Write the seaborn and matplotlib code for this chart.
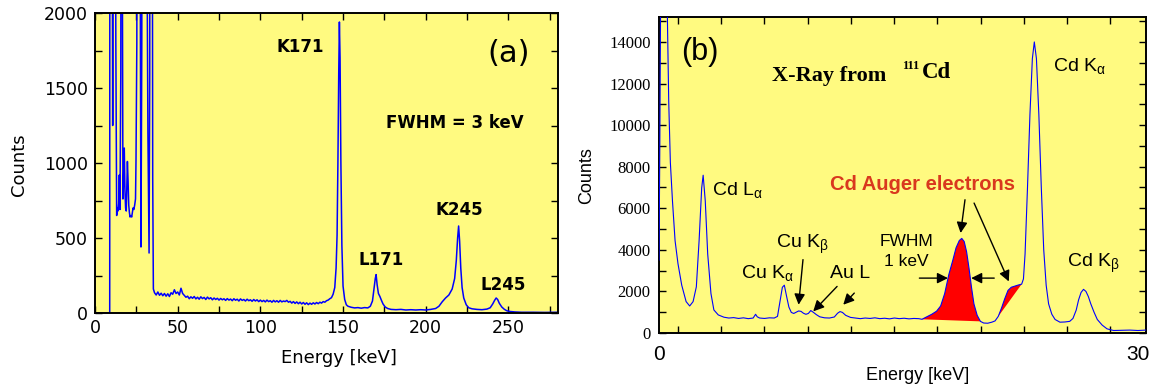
import matplotlib
matplotlib.use("Agg")

import numpy as np
import matplotlib.pyplot as plt
from matplotlib.ticker import MultipleLocator, FixedLocator
import seaborn as sns


# panel (a): spectrum 0-280 keV
ENERGY_A = [
    0, 8.9, 9.07, 9.5, 10.2, 10.7, 11.1, 12.0, 12.6, 13.1,
    13.5, 13.9, 14.3, 14.7, 15.1, 15.6, 16.1, 16.5, 16.9, 17.3,
    17.7, 18.1, 18.5, 18.9, 19.3, 19.6, 20.0, 20.4, 20.8, 21.2,
    21.7, 22.2, 22.6, 23.0, 23.5, 24.0, 24.5, 24.8, 25.3, 25.7,
    26.8, 27.3, 27.8, 28.3, 28.8, 30.2, 31.2, 32.0, 32.7, 33.1,
    33.4, 34.3, 34.9, 35.3,
    36, 37, 38, 39, 40, 41, 42, 43, 44, 45, 46, 47, 48, 49, 50,
    51, 52, 53, 54, 55, 56, 57, 58, 59, 60, 61, 62, 63, 64, 65,
    66, 67, 68, 69, 70, 71, 72, 73, 74, 75, 76, 77, 78, 79, 80,
    81, 82, 83, 84, 85, 86, 87, 88, 89, 90, 91, 92, 93, 94, 95,
    96, 97, 98, 99, 100, 101, 102, 103, 104, 105, 106, 107, 108, 109, 110,
    111, 112, 113, 114, 115, 116, 117, 118, 119, 120, 121, 122, 123, 124, 125,
    126, 127, 128, 129, 130, 131, 132, 133, 134, 135, 136, 137, 138, 139, 140,
    141, 142, 143, 144, 145, 145.8, 146.4, 146.9, 147.4, 147.8,
    148.2, 148.7, 149.3, 150.0, 151.0, 152, 153, 155, 157, 159,
    161, 163, 165, 166.5, 167.8, 168.8, 169.5, 170.0, 170.6, 171.4,
    172.3, 173.2, 174.2, 175.5, 177, 179, 182, 185, 188, 191,
    194, 197, 200, 203, 206, 208, 210, 212, 214, 216,
    217.5, 218.5, 219.3, 219.9, 220.5, 221.2, 222.0, 223.0, 224.5, 226,
    228, 231, 234, 237, 239, 240.5, 241.7, 242.6, 243.5, 244.5,
    246, 247.5, 249, 251, 254, 258, 265, 272, 280,
]
COUNTS_A = [
    0, 0, 6000, 6000, 4000, 1250, 4000, 5000, 1800, 650,
    700, 680, 730, 920, 690, 1600, 6000, 2500, 760, 900,
    1100, 820, 700, 680, 860, 1010, 880, 720, 670, 640,
    650, 640, 670, 700, 690, 720, 760, 1020, 1800, 6000,
    6000, 2500, 440, 1800, 6000, 6000, 3000, 1200, 400, 1600,
    6000, 6000, 900, 160,
    135, 120, 140, 118, 132, 115, 130, 112, 128, 110, 135, 125, 155, 130, 140,
    120, 165, 130, 118, 105, 112, 95, 108, 98, 110, 94, 105, 92, 108, 96,
    104, 90, 106, 94, 102, 88, 100, 90, 98, 86, 97, 88, 95, 84, 96,
    86, 93, 82, 95, 85, 92, 80, 94, 84, 90, 80, 92, 82, 88, 78,
    90, 80, 88, 76, 86, 76, 84, 74, 86, 76, 82, 72, 84, 74, 82,
    72, 84, 74, 80, 76, 84, 72, 78, 66, 76, 64, 74, 62, 72, 60,
    70, 58, 68, 56, 66, 58, 68, 60, 70, 62, 72, 66, 76, 72, 82,
    86, 95, 102, 125, 170, 300, 520, 1000, 1600, 1940,
    1700, 1000, 450, 180, 90, 55, 45, 38, 34, 36,
    32, 36, 34, 45, 80, 170, 230, 256, 190, 130,
    110, 85, 60, 40, 30, 24, 22, 24, 20, 22,
    20, 22, 20, 24, 30, 45, 75, 100, 120, 160,
    230, 350, 500, 580, 480, 300, 170, 100, 55, 35,
    28, 24, 22, 26, 35, 60, 85, 100, 90, 65,
    40, 25, 15, 10, 7, 5, 5, 4, 5,
]

# panel (b): X-ray spectrum 0-30 keV
ENERGY_B = [
    0, 0.05, 0.1, 0.15, 0.5, 0.6, 0.7, 0.83, 0.99, 1.17,
    1.4, 1.67, 1.89, 2.1, 2.3, 2.47, 2.63, 2.72, 2.85, 3.0,
    3.2, 3.38, 3.65, 4.0, 4.3, 4.6, 4.9, 5.2, 5.5, 5.8,
    5.95, 6.05, 6.2, 6.5, 6.8, 7.1, 7.3, 7.45, 7.6, 7.72,
    7.85, 8.0, 8.15, 8.3, 8.45, 8.6, 8.75, 8.9, 9.05, 9.2,
    9.35, 9.5, 9.7, 9.9, 10.2, 10.5, 10.8, 11.0, 11.15, 11.3,
    11.5, 11.8, 12.1, 12.4, 12.7, 13.0, 13.3, 13.6, 13.9, 14.2,
    14.5, 14.8, 15.1, 15.4, 15.7, 16.0, 16.2, 16.5, 16.8, 17.1,
    17.35, 17.6, 17.85, 18.1, 18.3, 18.5, 18.65, 18.8, 18.95, 19.1,
    19.25, 19.4, 19.6, 19.8, 20.0, 20.25, 20.5, 20.7, 20.9, 21.1,
    21.3, 21.5, 21.7, 21.9, 22.1, 22.34, 22.45, 22.55, 22.7, 22.85,
    23.0, 23.12, 23.25, 23.4, 23.55, 23.7, 23.85, 24.0, 24.2, 24.4,
    24.7, 25.0, 25.3, 25.5, 25.7, 25.85, 26.0, 26.15, 26.3, 26.45,
    26.6, 26.8, 27.0, 27.3, 27.6, 28.0, 28.5, 29.0, 29.5, 30.0,
]
COUNTS_B = [
    3500, 9000, 16000, 16000, 16000, 11100, 8200, 6350, 4440, 3330,
    2300, 1510, 1300, 1510, 2220, 4440, 6980, 7590, 6350, 3800,
    1900, 1110, 870, 760, 720, 740, 700, 730, 690, 720,
    900, 780, 720, 700, 730, 720, 800, 1500, 2200, 2300,
    1800, 1250, 990, 940, 1000, 1060, 1040, 950, 900, 940,
    1080, 1000, 880, 780, 730, 720, 770, 950, 1030, 990,
    850, 750, 720, 690, 720, 700, 730, 690, 710, 680,
    720, 690, 710, 680, 700, 690, 660, 780, 900, 1050,
    1300, 1900, 2800, 3500, 4100, 4450, 4550, 4400, 3900, 3100,
    2200, 1400, 850, 560, 480, 470, 520, 580, 800, 1200,
    1650, 2050, 2200, 2250, 2300, 2350, 2600, 3800, 7000, 10500,
    13200, 14000, 13200, 10500, 7000, 4000, 2300, 1400, 900, 650,
    520, 530, 560, 700, 1100, 1600, 1950, 2100, 2000, 1750,
    1400, 1000, 650, 380, 200, 120, 130, 140, 120, 140,
]

AUGER_RANGES = [(16.2, 19.8), (20.7, 22.34)]
B_MINOR_TICKS = [1.15, 3.82, 6.48, 9.15, 11.81, 14.48, 17.14, 19.81, 22.47, 25.14, 27.8]
B_TICK_LABELS = ["0", "30"]

YELLOW = "#FFFA80"
BLUE = "#0000FF"


def style_frame(ax):
    ax.set_facecolor(YELLOW)
    for spine in ax.spines.values():
        spine.set_visible(True)
        spine.set_color("black")
        spine.set_linewidth(1.4)


def plot_panel_a(ax):
    style_frame(ax)
    sns.lineplot(x=ENERGY_A, y=COUNTS_A, ax=ax, color=BLUE, linewidth=1.1,
                 estimator=None, sort=False)

    ax.set_xlim(0, 280)
    ax.set_ylim(0, 2000)
    ax.xaxis.set_major_locator(MultipleLocator(50))
    ax.xaxis.set_minor_locator(MultipleLocator(25))
    ax.yaxis.set_major_locator(MultipleLocator(500))
    ax.yaxis.set_minor_locator(MultipleLocator(250))
    ax.tick_params(which="both", direction="in", top=True, right=True,
                   length=5, width=1, color="black")
    ax.tick_params(axis="x", labelsize=12.5, pad=4)
    ax.tick_params(axis="y", labelsize=12.5, pad=5)

    ax.set_xlabel("Energy [keV]", fontsize=13)
    ax.set_ylabel("Counts", fontsize=13)
    ax.xaxis.set_label_coords(0.527, -0.12)
    ax.yaxis.set_label_coords(-0.145, 0.495)

    bold = dict(fontsize=12, fontweight="bold", ha="center", va="center")
    ax.text(124, 1770, "K171", **bold)
    ax.text(217.7, 1270, "FWHM = 3 keV", **bold)
    ax.text(220.4, 686, "K245", **bold)
    ax.text(173, 352, "L171", **bold)
    ax.text(246.8, 185, "L245", **bold)
    ax.text(250, 1730, "(a)", fontsize=22, ha="center", va="center")


def plot_panel_b(ax):
    style_frame(ax)
    energy = np.array(ENERGY_B)
    counts = np.array(COUNTS_B)

    # Auger peaks filled in red between the curve and its chord
    for lo, hi in AUGER_RANGES:
        mask = (energy >= lo) & (energy <= hi)
        ax.fill(energy[mask], counts[mask], color="#FF0000", lw=0, zorder=2)

    sns.lineplot(x=energy, y=counts, ax=ax, color=BLUE, linewidth=0.8,
                 estimator=None, sort=False, zorder=3)

    ax.set_xlim(0, 30)
    ax.set_ylim(0, 15200)
    # "30" label sits a little left of the frame edge in the original
    ax.set_xticks([0, 29.5])
    ax.set_xticklabels(B_TICK_LABELS)
    ax.xaxis.set_minor_locator(FixedLocator(B_MINOR_TICKS))
    ax.yaxis.set_major_locator(MultipleLocator(2000))
    ax.yaxis.set_minor_locator(MultipleLocator(1000))
    ax.tick_params(which="both", direction="in", top=True, right=True,
                   length=5, width=1, color="black")
    ax.tick_params(axis="x", which="major", length=0, labelsize=15, pad=9,
                   labelfontfamily="Liberation Sans")
    ax.tick_params(axis="y", labelsize=12, pad=6,
                   labelfontfamily="Liberation Serif")

    ax.set_xlabel("Energy [keV]", fontsize=13, fontfamily="Liberation Sans")
    ax.set_ylabel("Counts", fontsize=13, fontfamily="Liberation Sans")
    ax.xaxis.set_label_coords(0.532, -0.108)
    ax.yaxis.set_label_coords(-0.132, 0.497)

    ax.text(2.52, 13540, "(b)", fontsize=22, ha="center", va="center",
            fontfamily="Liberation Sans")
    serif = dict(fontfamily="Liberation Serif", fontweight="bold", va="center")
    ax.text(6.94, 12360, "X-Ray from", fontsize=16, ha="left", **serif)
    ax.text(14.95, 12840, "111", fontsize=9, ha="left", **serif)
    ax.text(16.18, 12520, "Cd", fontsize=16.5, ha="left", **serif)

    sans = dict(fontfamily="Liberation Sans", fontsize=14, va="center", ha="left")
    ax.text(3.24, 6890, r"Cd L$_{\alpha}$", **sans)
    ax.text(5.05, 2880, r"Cu K$_{\alpha}$", **sans)
    ax.text(7.2, 4280, r"Cu K$_{\beta}$", **sans)
    ax.text(10.54, 2850, "Au L", **sans)
    ax.text(24.26, 12820, r"Cd K$_{\alpha}$", **sans)
    ax.text(25.16, 3370, r"Cd K$_{\beta}$", **sans)
    ax.text(15.25, 4410, "FWHM", fontfamily="Liberation Sans", fontsize=12.5,
            ha="center", va="center")
    ax.text(15.25, 3450, "1 keV", fontfamily="Liberation Sans", fontsize=12.5,
            ha="center", va="center")
    ax.text(10.54, 7130, "Cd Auger electrons", fontfamily="Liberation Sans",
            fontsize=14.5, fontweight="bold", color="#D9381E",
            ha="left", va="center")

    arrows = [
        ((8.87, 3530), (8.6, 1360)),
        ((10.97, 2240), (9.5, 1040)),
        ((12.03, 1920), (11.35, 1360)),
        ((16.04, 2640), (17.8, 2640)),
        ((20.65, 2640), (19.23, 2640)),
        ((18.85, 6410), (18.58, 4810)),
        ((19.41, 6250), (21.55, 2480)),
    ]
    for tail, head in arrows:
        ax.annotate("", xy=head, xytext=tail,
                    arrowprops=dict(arrowstyle="-|>", color="black", lw=1.0,
                                    mutation_scale=16, shrinkA=0, shrinkB=0),
                    zorder=4)


def main():
    sns.set_style("ticks")
    plt.rcParams["font.family"] = ["DejaVu Sans"]
    plt.rcParams["text.color"] = "black"
    plt.rcParams["axes.labelcolor"] = "black"
    plt.rcParams["xtick.color"] = "black"
    plt.rcParams["ytick.color"] = "black"
    plt.rcParams["mathtext.fontset"] = "custom"
    plt.rcParams["mathtext.rm"] = "Liberation Sans"
    plt.rcParams["mathtext.it"] = "Liberation Sans"
    plt.rcParams["mathtext.bf"] = "Liberation Sans:bold"

    fig = plt.figure(figsize=(11.52, 3.92), dpi=100)
    fig.patch.set_facecolor("white")
    ax_a = fig.add_axes([95 / 1152, 79 / 392, 463 / 1152, 300 / 392])
    ax_b = fig.add_axes([659 / 1152, 59 / 392, 487 / 1152, 316 / 392])

    plot_panel_a(ax_a)
    plot_panel_b(ax_b)

    fig.savefig("out.png", dpi=100)
    plt.close(fig)


if __name__ == "__main__":
    main()
